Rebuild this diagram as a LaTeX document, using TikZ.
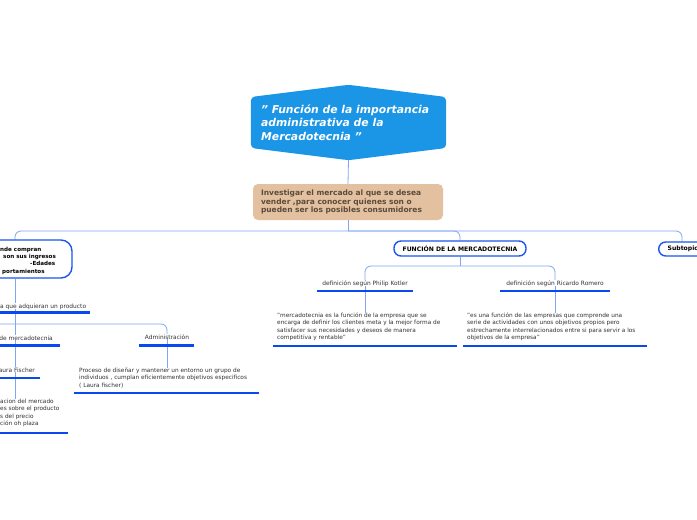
\documentclass[tikz,border=0pt]{standalone}
\usepackage{fontspec}
\setmainfont{DejaVu Sans}
\usetikzlibrary{backgrounds}
\definecolor{cblue}{HTML}{1B96E6}
\definecolor{tanc}{HTML}{E3C1A0}
\definecolor{tantext}{HTML}{5B4B3B}
\definecolor{connc}{HTML}{7FA6F4}
\definecolor{barblue}{HTML}{0A49F0}
\definecolor{pillblue}{HTML}{1A55EE}
\definecolor{txt}{HTML}{333333}
\begin{document}
\begin{tikzpicture}[x=1pt,y=-1pt,
  connector/.style={draw=connc, line width=0.8pt, rounded corners=6pt},
  bar/.style={draw=barblue, line width=2.6pt},
  lbl/.style={font=\fontsize{5.9}{6.5}\selectfont, text=txt, inner sep=0pt},
  body/.style={font=\fontsize{5.8}{7.5}\selectfont, text=txt, align=left, inner sep=0pt},
  pill/.style={draw=pillblue, line width=1.4pt, fill=white, rounded corners=7pt,
    font=\fontsize{6.1}{6.5}\selectfont\bfseries, inner sep=0pt},
  wline/.style={anchor=base west, inner sep=0pt, font=\fontsize{5.6}{7}\selectfont\bfseries}]
\useasboundingbox (0,0) rectangle (697,520);

% central topic
\node[inner sep=0pt, minimum width=195pt, minimum height=75pt] (central) at (348.5,122.5) {};
\node[anchor=north west, align=left, text=white, inner sep=0pt,
  font=\fontsize{10.8}{13.5}\selectfont\bfseries\itshape] (ctext) at (261,104.5) {" Función de la importancia\\administrativa de la\\Mercadotecnia "};

% tan box
\node[fill=tanc, rounded corners=5pt, text width=174pt, inner xsep=8pt, inner ysep=0pt,
  minimum height=36pt, align=left, text=tantext,
  font=\fontsize{7.5}{8.7}\selectfont\bfseries] (tan) at (348,202) {Investigar el mercado al que se desea\\vender ,para conocer quienes son o\\pueden ser los posibles consumidores};

% left main node
\node[pill, rounded corners=11pt, minimum width=132pt, minimum height=38pt] (who) at (6,259) {};
\node[wline] (w1) at (0,251) {nde compran};
\node[wline] (w2) at (3,258.3) {son sus ingresos};
\node[wline] (w3) at (30,265.6) {-Edades};
\node[wline] (w4) at (2,273) {portamientos};
\coordinate (win) at (15,240);

\node[lbl, anchor=base west] (prod) at (0,308) {a que adquieran un producto};
\node[lbl, anchor=base east] (mk) at (53,340) {de mercadotecnia};
\node[lbl, anchor=base] (adm) at (167,339) {Administración};
\node[lbl, anchor=base east] (aura) at (35,372) {aura Fischer};
\node[body, anchor=north west] (mkt) at (0,398.6) {acion del mercado\\es sobre el producto\\s del precio\\ción oh plaza};
\node[body, anchor=north west] (admdef) at (79,367.6) {Proceso de diseñar y mantener un entorno un grupo de\\individuos , cumplan eficientemente objetivos especificos\\( Laura fischer)};

% right branch
\node[pill, minimum width=132pt, minimum height=15pt] (fun) at (460,248.5) {FUNCIÓN DE LA MERCADOTECNIA};
\node[pill, anchor=west, minimum height=14pt, inner xsep=9pt] (sub) at (658,249) {Subtopic};
\coordinate (sin) at (682,242);
\node[lbl, anchor=base] (kot) at (365,285) {definición según Philip Kotler};
\node[lbl, anchor=base] (rom) at (555,285) {definición según Ricardo Romero};
\node[body, anchor=north west] (kotdef) at (277,312.6) {"mercadotecnia es la función de la empresa que se\\encarga de definir los clientes meta y la mejor forma de\\satisfacer sus necesidades y deseos de manera\\competitiva y rentable"};
\node[body, anchor=north west] (romdef) at (467,312.6) {"es una función de las empresas que comprende una\\serie de actividades con unos objetivos propios pero\\estrechamente interrelacionados entre si para servir a los\\objetivos de la empresa"};

\begin{scope}[on background layer]
  \fill[white] (0,0) rectangle (697,520);
  \fill[cblue, rounded corners=4pt] (central.west |- 0,97) -- (central.north) -- (central.east |- 0,97)
     -- (central.east |- 0,148) -- (central.south) -- (central.west |- 0,148) -- cycle;
  % connectors
  \coordinate (hub) at (348,231);
  \draw[connector] (central.south) -- (tan.north);
  \draw[connector] (tan.south) -- (hub);
  \draw[connector] (win) |- (hub) -| (sin);
  \draw[connector] (hub) -| (fun.north);
  \draw[connector] (who.south -| win) -- (prod.north -| win);
  \draw[connector] (prod.south -| win) -- (mk.north -| win);
  \draw[connector] (-20,324) -| (adm.north);
  \draw[connector] (mk.south -| win) -- (aura.north -| win);
  \draw[connector] (aura.south -| win) -- (mkt.north -| win);
  \draw[connector] (adm.south) -- (admdef.north -| adm);
  \coordinate (fj) at (460,266);
  \draw[connector] (fun.south) -- (fj);
  \draw[connector] (kot.north) |- (fj) -| (rom.north);
  \draw[connector] (kot.south) -- (kotdef.north -| kot);
  \draw[connector] (rom.south) -- (romdef.north -| rom);
  % underline bars
  \draw[bar] (-10,312.5) -- (90,312.5);
  \draw[bar] (-10,345.5) -- (60,345.5);
  \draw[bar] (139,345.5) -- (194,345.5);
  \draw[bar] (-10,378) -- (40,378);
  \draw[bar] (-10,433) -- (68,433);
  \draw[bar] (74,393) -- (259,393);
  \draw[bar] (317,291) -- (413,291);
  \draw[bar] (500,291) -- (610,291);
  \draw[bar] (273,346) -- (457,346);
  \draw[bar] (463,346) -- (647,346);
\end{scope}
\end{tikzpicture}
\end{document}
